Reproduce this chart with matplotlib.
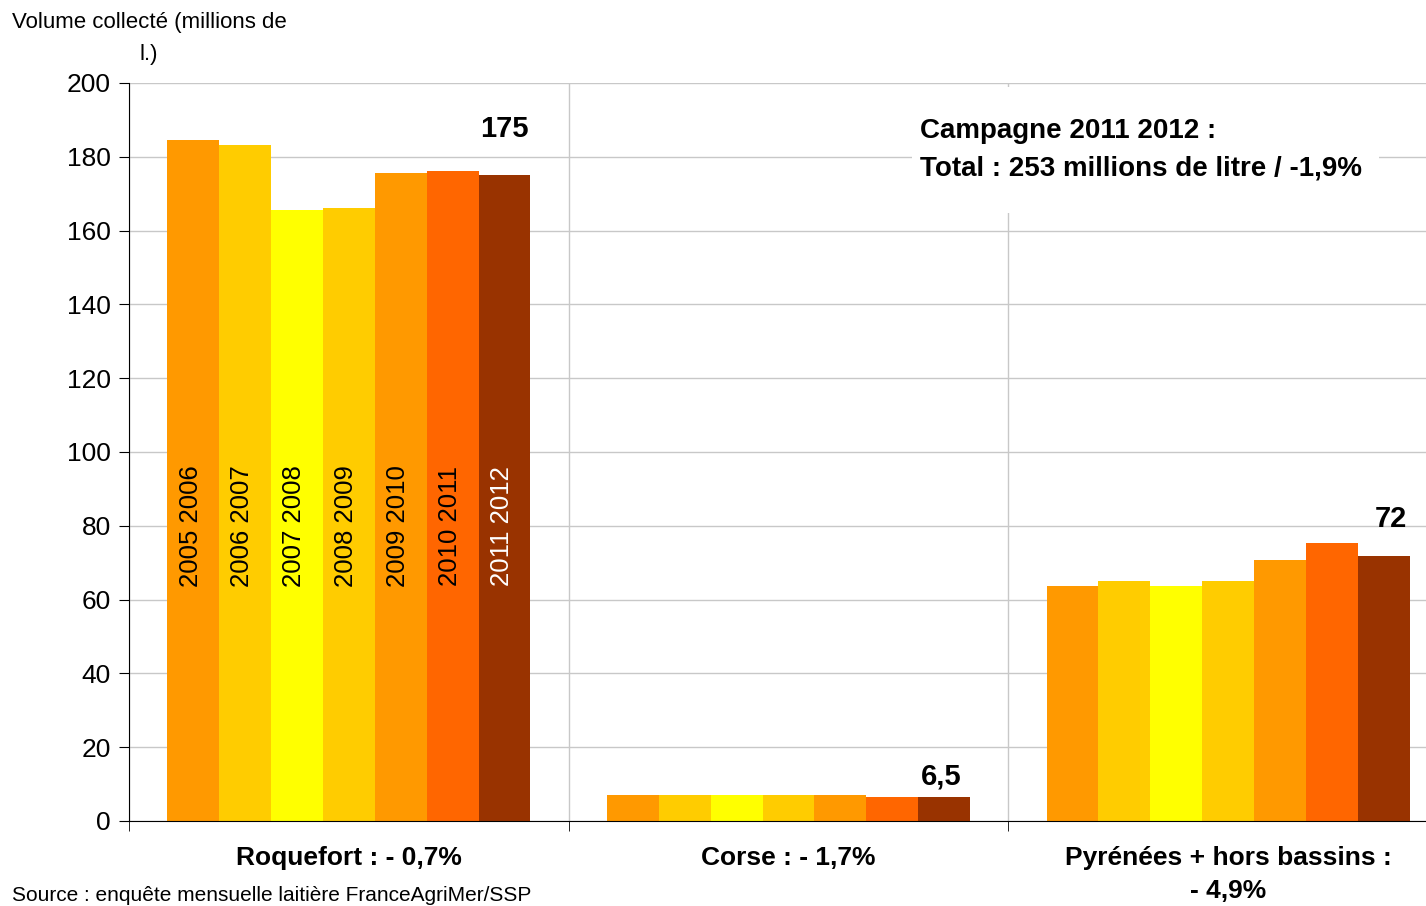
import matplotlib.pyplot as plt
from matplotlib.patches import Rectangle
import numpy as np

plt.rcParams['font.family'] = ['Liberation Sans', 'DejaVu Sans']

# Données (millions de litres)
campagnes = ['2005 2006', '2006 2007', '2007 2008', '2008 2009',
             '2009 2010', '2010 2011', '2011 2012']
bassins = ['Roquefort : - 0,7%', 'Corse : - 1,7%',
           'Pyrénées + hors bassins :\n- 4,9%']
roquefort = [184.6, 183.2, 165.6, 166.1, 175.6, 176.2, 175.0]
corse = [7.0, 7.0, 7.0, 7.0, 7.0, 6.5, 6.5]
pyrenees = [63.7, 65.0, 63.7, 65.0, 70.8, 75.3, 71.7]
etiquettes = ['175', '6,5', '72']

couleurs = ['#FF9900', '#FFCC00', '#FFFF00', '#FFCC00',
            '#FF9900', '#FF6600', '#993300']

series = np.array([roquefort, corse, pyrenees])  # bassin x campagne
x = np.arange(len(bassins))
n = len(campagnes)
largeur = 0.826 / n

fig = plt.figure(figsize=(14.26, 9.06), dpi=100)
ax = fig.add_axes([129 / 1426, 85 / 906, 1319 / 1426, 738 / 906])

for j in range(n):
    pos = x + (j - (n - 1) / 2) * largeur
    ax.bar(pos, series[:, j], width=largeur, color=couleurs[j], zorder=2)
    # années écrites dans les barres de Roquefort
    ax.text(pos[0] - 0.006, 80, campagnes[j], rotation=90, ha='center',
            va='center', fontsize=18.5,
            color='white' if j == n - 1 else 'black', zorder=3)

# valeurs de la dernière campagne
decalages = [(0, 23), (-2, 5), (5, 17)]
for i in range(len(bassins)):
    pos = x[i] + (n - 1) / 2 * largeur
    ax.annotate(etiquettes[i], (pos, series[i, -1]), xytext=decalages[i],
                textcoords='offset points', ha='center', va='bottom',
                fontsize=21, fontweight='bold')

ax.set_xlim(-0.5, 2.5)
ax.set_ylim(0, 200)
ax.set_yticks(np.arange(0, 201, 20))
ax.tick_params(axis='y', labelsize=19, length=7, pad=6)

ax.set_xticks(x)
ax.set_xticklabels(bassins, fontsize=19, fontweight='bold')
for t in ax.get_xticklabels():
    t.set_linespacing(1.5)
ax.set_xticks([-0.5, 0.5, 1.5], minor=True)
ax.tick_params(axis='x', which='major', length=0, pad=18)
ax.tick_params(axis='x', which='minor', length=7)

ax.grid(axis='y', color='#C8C8C8', linewidth=1, zorder=0)
ax.grid(axis='x', which='minor', color='#C8C8C8', linewidth=1, zorder=0)
ax.set_axisbelow(True)
for s in ['top', 'right']:
    ax.spines[s].set_visible(False)

# encadré blanc du total
ax.add_patch(Rectangle((1.282, 164.8), 1.06, 34.1, facecolor='white',
                       edgecolor='none', zorder=1))
ax.text(1.298, 190.6, 'Campagne 2011 2012 :\nTotal : 253 millions de litre / -1,9%',
        ha='left', va='top', fontsize=20, fontweight='bold', linespacing=1.6,
        zorder=4)

fig.text(149 / 1426, 1 - 12 / 906, 'Volume collecté (millions de\nl.)',
         ha='center', va='top', fontsize=16, linespacing=1.7)
fig.text(12 / 1426, 1 - 886 / 906,
         'Source : enquête mensuelle laitière FranceAgriMer/SSP',
         ha='left', va='top', fontsize=15)

fig.savefig('out.png', dpi=100)
